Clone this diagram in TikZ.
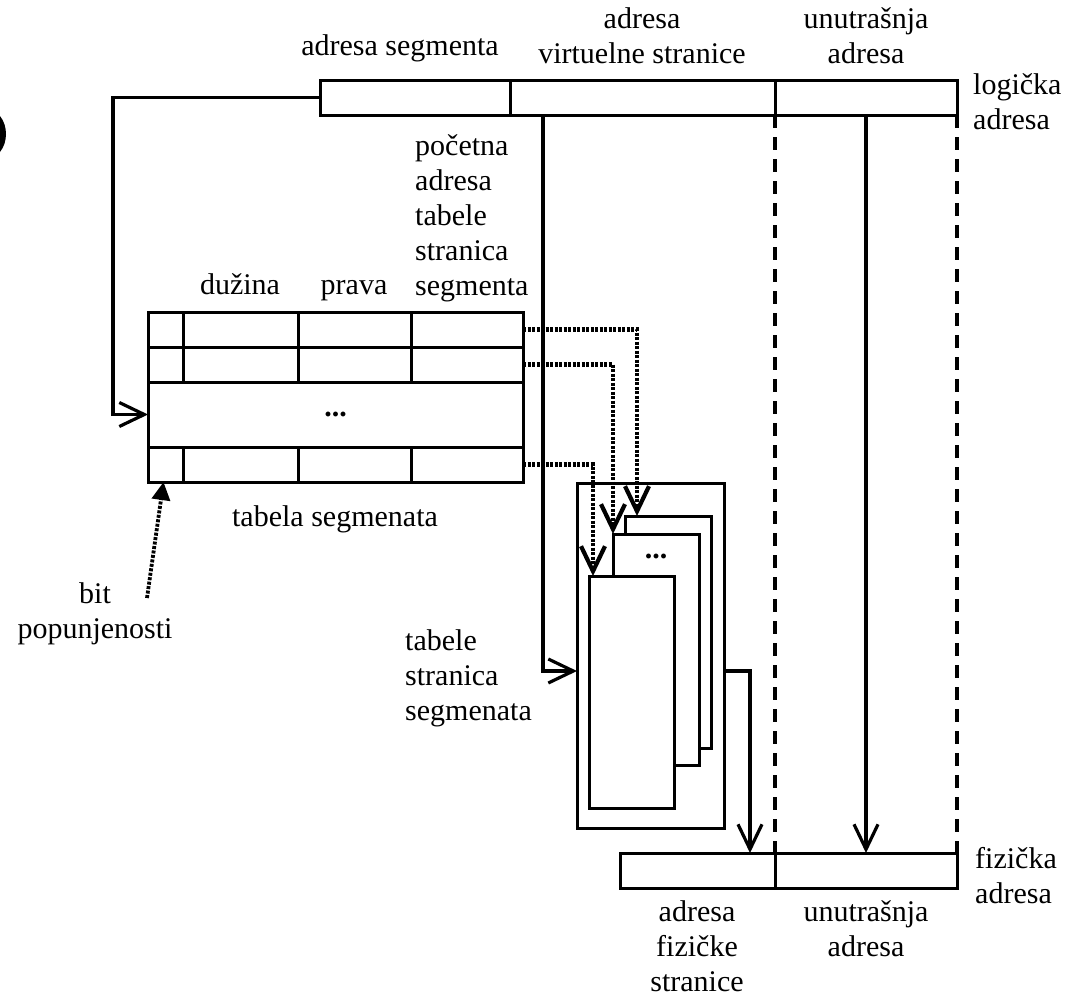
\documentclass[tikz,border=0pt]{standalone}
\usepackage{fontspec}
\setmainfont{Liberation Serif}
\usetikzlibrary{arrows.meta,positioning}

\begin{document}
\begin{tikzpicture}[x=1pt,y=-1pt,>={Straight Barb[length=25pt,width=24pt]},
  node distance=0pt,font=\fontsize{30}{35}\selectfont,
  fld/.style={draw,line width=3pt,minimum height=35pt,inner sep=0pt,outer sep=0pt},
  cell/.style={draw,line width=3pt,minimum height=35pt,inner sep=0pt,outer sep=0pt},
  pg/.style={draw,fill=white,line width=3pt,inner sep=0pt,outer sep=0pt},
  lab/.style={inner sep=0pt,anchor=base},
  arr/.style={->,line width=3.2pt},
  ptr/.style={->,line width=4.2pt,dash pattern=on 3pt off 1.5pt},
  lim/.style={line width=4pt,dash pattern=on 13pt off 9pt}]
\useasboundingbox (0,0) rectangle (1068,997);
\fill (0,116) .. controls (8,126) and (8,142) .. (0,152) -- cycle;
\node[fld, minimum width=190pt] (seg) at (415,97.5) {};
\node[fld, minimum width=265pt, right=of seg] (vpg) {};
\node[fld, minimum width=182pt, right=of vpg] (off) {};
\node[fld, minimum width=155pt] (frm) at (697.5,870.5) {};
\node[fld, minimum width=182pt, right=of frm] (poff) {};
\node[cell, minimum width=35pt] (b1) at (165.5,329.5) {};
\node[cell, minimum width=115pt, right=of b1] (l1) {};
\node[cell, minimum width=113pt, right=of l1] (p1) {};
\node[cell, minimum width=112pt, right=of p1] (a1) {};
\node[cell, minimum width=35pt, below=of b1] (b2) {};
\node[cell, minimum width=115pt, right=of b2] (l2) {};
\node[cell, minimum width=113pt, right=of l2] (p2) {};
\node[cell, minimum width=112pt, right=of p2] (a2) {};
\node[cell, minimum width=375pt, minimum height=65pt, below right=of b2.south west] (dots) {\textbf{...}};
\node[cell, minimum width=35pt, below right=of dots.south west] (b4) {};
\node[cell, minimum width=115pt, right=of b4] (l4) {};
\node[cell, minimum width=113pt, right=of l4] (p4) {};
\node[cell, minimum width=112pt, right=of p4] (a4) {};
\node[pg, minimum width=147pt, minimum height=345pt] (pts) at (650.5,655.5) {};
\node[pg, minimum width=86pt, minimum height=232pt] (back) at (668,632) {};
\node[pg, minimum width=86pt, minimum height=231pt] (mid) at (656,649.5) {};
\node[inner sep=0pt] (pdots) at (656,556) {\textbf{...}};
\node[pg, minimum width=85pt, minimum height=232pt] (front) at (631.5,692) {};
\node[lab] (lseg) at (400,55) {adresa segmenta};
\node[lab, align=center] (lvpg) at (642,63) {adresa\\virtuelne stranice};
\node[lab, align=center] (loff) at (866,63) {unutrašnja\\adresa};
\node[lab, anchor=base west, align=left] (llog) at (973,129) {logička\\adresa};
\node[lab, anchor=base west, align=left] (lpta) at (415,295) {početna\\adresa\\tabele\\stranica\\segmenta};
\node[lab] (llen) at (240,294) {dužina};
\node[lab] (lprv) at (354,294) {prava};
\node[lab] (lst) at (335,526) {tabela segmenata};
\node[lab, align=center] (lbit) at (95,638) {bit\\popunjenosti};
\node[lab, anchor=base west, align=left] (ltps) at (405,720) {tabele\\stranica\\segmenata};
\node[lab, anchor=base west, align=left] (lfiz) at (975,903) {fizička\\adresa};
\node[lab, align=center] (lfrm) at (697,991) {adresa\\fizičke\\stranice};
\node[lab, align=center] (lpof) at (866,956) {unutrašnja\\adresa};
\coordinate (bend) at (113,414.5);
\coordinate (bt) at (147,598);
\draw[arr] (seg.west) -| (bend) -- (dots.west);
\draw[arr] ([xshift=33pt]vpg.south west) |- ([yshift=-15.5pt]pts.west);
\draw[arr] ([yshift=-15.5pt]pts.east) -| ([xshift=-25pt]frm.north east);
\draw[arr] (off.south) -- (off.south |- poff.north);
\draw[lim] (vpg.south east) -- (frm.north east);
\draw[lim] (off.south east) -- (poff.north east);
\draw[ptr] (a1.east) -| ([xshift=12pt]back.north west);
\draw[ptr] (a2.east) -| (mid.north west);
\draw[ptr] (a4.east) -| ([xshift=4pt]front.north west);
\draw[line width=3.8pt,dash pattern=on 3pt off 1.5pt,-{Triangle[length=18pt,width=18pt]}] (bt) -- ([xshift=-2pt]b4.south);
\end{tikzpicture}
\end{document}
